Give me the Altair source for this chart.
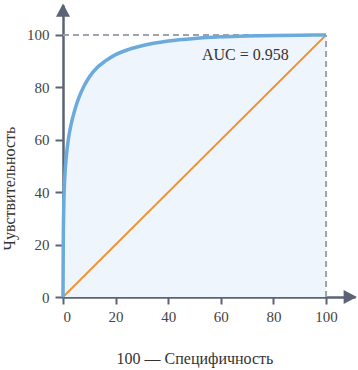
import altair as alt
import pandas as pd

# ROC curve (x = 100 - specificity, y = sensitivity)
roc_x = [0, 0.1, 0.3, 0.7, 1.3, 2, 3, 4.5, 6, 8, 10, 13, 16, 20, 25, 30, 40, 50, 60, 70, 80, 90, 100]
roc_y = [0, 20, 35, 46, 54, 60, 65.5, 71.5, 76, 80.5, 84, 87.6, 90.0, 92.5, 94.5, 95.9, 97.7, 98.7, 99.3, 99.65, 99.85, 99.95, 100]
diag_x = [0, 100]
diag_y = [0, 100]
ticks = [0, 20, 40, 60, 80, 100]
auc_label = "AUC = 0.958"
x_title = "100 — Специфичность"
y_title = "Чувствительность"

FONT = "Liberation Serif"
AXIS_COL = "#5b6474"
XMAX = 111.0
YMAX = 111.45

roc = pd.DataFrame({"x": roc_x, "y": roc_y})
diag = pd.DataFrame({"x": diag_x, "y": diag_y})

xs = alt.Scale(domain=[0, XMAX], nice=False, zero=False)
ys = alt.Scale(domain=[0, YMAX], nice=False, zero=False)

xaxis = alt.Axis(values=ticks, grid=False, domainColor=AXIS_COL, domainWidth=2.5,
                 tickColor=AXIS_COL, tickWidth=2, tickSize=7, labelFont=FONT,
                 labelFontSize=15, labelColor="#444444", labelPadding=5,
                 title=x_title, titleFont=FONT, titleFontSize=16, titleFontWeight="normal",
                 titleColor="#333333", titleX=131.5, titleY=66, titleBaseline="alphabetic",
                 titleAnchor="middle", titleAlign="center")
yaxis = alt.Axis(values=ticks, grid=False, domainColor=AXIS_COL, domainWidth=2.5,
                 tickColor=AXIS_COL, tickWidth=2, tickSize=8, labelFont=FONT,
                 labelFontSize=15, labelColor="#444444", labelPadding=6,
                 title=y_title, titleFont=FONT, titleFontSize=16, titleFontWeight="normal",
                 titleColor="#333333", titleX=-49, titleY=183, titleAngle=-90,
                 titleBaseline="alphabetic", titleAlign="center", titleAnchor="middle")

area = alt.Chart(roc).mark_area(color="#eef5fd", interpolate="monotone", opacity=1).encode(
    x=alt.X("x:Q", scale=xs, axis=xaxis),
    y=alt.Y("y:Q", scale=ys, axis=yaxis),
)

hline = pd.DataFrame({"x": [0], "x2": [100], "y": [100]})
vline = pd.DataFrame({"x": [100], "y": [0], "y2": [100]})
hdash = alt.Chart(hline).mark_rule(color="#9ea3ab", strokeWidth=2, strokeDash=[6, 4]).encode(
    x=alt.X("x:Q", scale=xs), x2="x2:Q", y=alt.Y("y:Q", scale=ys))
vdash = alt.Chart(vline).mark_rule(color="#9ea3ab", strokeWidth=2, strokeDash=[6, 4]).encode(
    x=alt.X("x:Q", scale=xs), y=alt.Y("y:Q", scale=ys), y2="y2:Q")

diag_line = alt.Chart(diag).mark_line(color="#f0922e", strokeWidth=1.8).encode(
    x=alt.X("x:Q", scale=xs), y=alt.Y("y:Q", scale=ys))

curve = alt.Chart(roc).mark_line(color="#6aaadc", strokeWidth=3.5, interpolate="monotone").encode(
    x=alt.X("x:Q", scale=xs), y=alt.Y("y:Q", scale=ys))

label = alt.Chart(pd.DataFrame({"x": [69.3], "y": [92.5], "t": [auc_label]})).mark_text(
    font=FONT, fontSize=16, color="#333333", align="center", baseline="middle").encode(
    x=alt.X("x:Q", scale=xs), y=alt.Y("y:Q", scale=ys), text="t:N")

up_arrow = alt.Chart(pd.DataFrame({"x": [0], "y": [109.5]})).mark_point(
    shape="M-1,0.95L0,-0.95L1,0.95Z", size=196, filled=True, color=AXIS_COL, opacity=1).encode(
    x=alt.X("x:Q", scale=xs), y=alt.Y("y:Q", scale=ys))
right_arrow = alt.Chart(pd.DataFrame({"x": [109.2], "y": [0]})).mark_point(
    shape="M-0.95,-1L0.95,0L-0.95,1Z", size=196, filled=True, color=AXIS_COL, opacity=1).encode(
    x=alt.X("x:Q", scale=xs), y=alt.Y("y:Q", scale=ys))

chart = alt.layer(area, hdash, vdash, diag_line, curve, label, up_arrow, right_arrow).properties(
    width=292, height=292, autosize="none",
    padding={"left": 63, "top": 5, "right": 3, "bottom": 73},
    background="white",
).configure_view(stroke=None)

chart.save("out.html", embed_options={"renderer": "svg", "actions": False})
